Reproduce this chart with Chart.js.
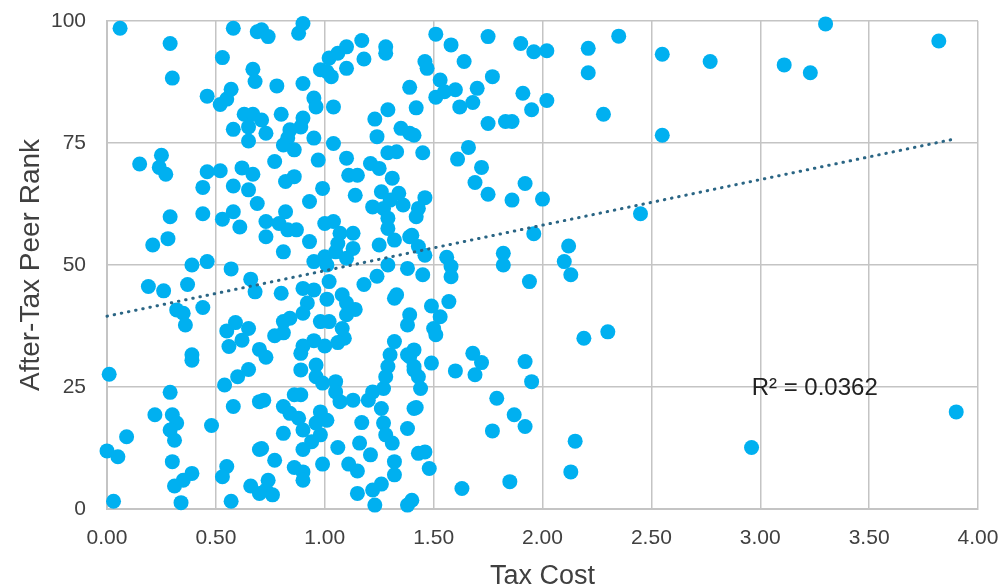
<!DOCTYPE html>
<html>
<head>
<meta charset="utf-8">
<title>Tax Cost vs After-Tax Peer Rank</title>
<script src="https://cdn.jsdelivr.net/npm/chart.js@4.4.1/dist/chart.umd.min.js"></script>
<style>
  html, body { margin: 0; padding: 0; background: #fff; }
  #wrap { width: 1003px; height: 586px; }
</style>
</head>
<body>
<div id="wrap"><canvas id="scatter"></canvas></div>
<script>
// ─── Data ────────────────────────────────────────────────────────────────────

const taxCost = [
  0.06, 0.29, 0.30, 0.46, 0.52, 0.55, 0.57, 0.53, 0.58, 0.69, 0.67, 0.68, 0.63, 0.67, 0.65, 0.58, 0.65,
  0.25, 0.15, 0.24, 0.27, 0.46, 0.52, 0.62, 0.67, 0.44, 0.58, 0.65, 0.69, 0.29, 0.44, 0.53, 0.58, 0.61,
  0.28, 0.21, 0.39, 0.46, 0.57, 0.71, 0.74, 0.90, 0.88, 0.78, 0.90, 0.95, 0.96, 1.04, 0.98, 1.02, 1.06,
  1.10, 1.10, 1.03, 1.01, 1.17, 1.18, 1.28, 1.28, 1.39, 0.80, 0.71, 0.73, 0.90, 0.89, 0.84, 0.83, 0.81,
  0.86, 0.95, 1.04, 1.23, 1.29, 1.24, 1.35, 1.39, 1.29, 1.33, 0.77, 0.97, 1.10, 1.21, 1.25, 0.82, 0.86,
  1.11, 1.15, 1.31, 0.99, 0.93, 1.14, 1.26, 1.34, 1.30, 1.36, 1.22, 1.27, 0.82, 0.73, 0.79, 0.83, 0.87,
  0.73, 1.00, 1.04, 1.07, 1.13, 1.29, 1.29, 1.32, 1.40, 0.93, 1.06, 1.13, 1.25, 0.81, 0.95, 1.00, 1.05,
  1.10, 1.29, 1.38, 1.51, 1.58, 1.64, 1.75, 1.90, 1.96, 2.02, 1.46, 1.47, 1.42, 1.53, 1.51, 1.55, 1.60,
  1.62, 1.68, 1.70, 1.77, 1.91, 1.95, 2.02, 1.75, 1.83, 1.86, 1.41, 1.45, 1.61, 1.66, 1.72, 1.69, 1.75,
  1.86, 1.92, 2.00, 1.46, 1.43, 1.42, 1.39, 1.43, 1.46, 1.56, 1.58, 1.82, 1.82, 1.96, 2.35, 2.21, 2.21,
  2.28, 2.55, 2.77, 2.55, 3.11, 3.23, 3.30, 3.82, 2.45, 2.12, 2.10, 2.13, 2.19, 2.30, 2.15, 2.13, 2.96,
  3.90, 0.66, 0.68, 0.19, 0.26, 0.37, 0.44, 0.32, 0.35, 0.36, 0.39, 0.39, 0.01, 0.55, 0.59, 0.65, 0.62,
  0.56, 0.70, 0.65, 0.60, 0.54, 0.29, 0.22, 0.30, 0.32, 0.29, 0.31, 0.48, 0.58, 0.70, 0.09, 0.00, 0.05,
  0.30, 0.39, 0.35, 0.31, 0.55, 0.53, 0.70, 0.66, 0.70, 0.03, 0.34, 0.57, 1.01, 0.80, 0.90, 0.95, 1.02,
  1.01, 1.08, 1.10, 1.14, 1.10, 1.18, 1.24, 1.32, 1.33, 1.39, 1.38, 0.92, 0.90, 0.84, 0.81, 0.98, 1.02,
  1.08, 1.09, 1.06, 1.00, 0.95, 0.90, 0.89, 0.81, 0.77, 0.73, 0.89, 0.96, 0.96, 0.99, 1.05, 1.05, 1.07,
  1.13, 1.20, 1.22, 1.27, 1.32, 1.30, 1.29, 1.28, 1.38, 1.41, 0.72, 0.86, 0.89, 0.81, 0.84, 0.88, 0.90,
  0.98, 1.01, 0.96, 0.98, 0.94, 0.90, 0.81, 0.71, 0.77, 0.86, 0.90, 0.90, 0.99, 1.06, 1.16, 1.21, 1.11,
  1.15, 1.17, 1.26, 1.27, 1.28, 1.31, 1.38, 1.41, 1.32, 1.32, 1.26, 1.22, 1.15, 1.23, 0.74, 0.73, 0.76,
  1.38, 1.58, 1.94, 1.45, 1.57, 1.49, 1.53, 1.50, 1.51, 1.41, 1.39, 1.41, 1.43, 1.44, 1.49, 1.60, 1.68,
  1.72, 1.69, 1.92, 1.95, 1.42, 1.43, 1.46, 1.48, 1.40, 1.79, 1.87, 1.92, 1.77, 1.63, 1.85,
];

const peerRank = [
  98.5, 95.4, 88.3, 84.6, 82.9, 84.0, 86.0, 92.5, 98.5, 97.8, 90.1, 87.6, 80.9, 80.9, 78.3, 77.8, 75.4,
  72.5, 70.7, 70.0, 68.6, 69.1, 69.3, 69.9, 68.6, 65.9, 66.2, 65.4, 62.6, 59.9, 60.5, 59.4, 60.9, 57.8,
  55.4, 54.1, 50.0, 50.7, 49.2, 98.2, 96.8, 99.5, 97.5, 86.7, 87.2, 84.2, 82.4, 82.4, 90.0, 92.4, 93.4,
  94.7, 90.3, 88.6, 89.6, 96.0, 92.2, 94.7, 93.4, 86.4, 80.9, 79.7, 77.0, 80.1, 78.3, 77.7, 76.0, 74.6,
  73.6, 76.0, 74.9, 79.9, 81.8, 76.3, 78.0, 77.0, 73.0, 73.2, 71.2, 71.5, 71.9, 70.8, 69.8, 67.1, 68.1,
  68.4, 68.4, 67.8, 65.7, 63.0, 64.3, 65.0, 64.7, 63.3, 62.3, 61.9, 61.6, 60.9, 58.9, 58.5, 57.2, 57.2,
  55.8, 58.5, 58.9, 56.5, 56.5, 59.6, 57.5, 55.1, 56.1, 54.8, 54.4, 53.4, 54.1, 52.7, 50.7, 51.7, 52.7,
  51.4, 50.0, 49.3, 97.3, 95.1, 91.7, 96.8, 95.4, 93.7, 93.9, 91.7, 90.3, 82.2, 87.9, 84.4, 85.5, 85.9,
  82.4, 83.3, 86.2, 88.6, 85.2, 81.8, 83.7, 79.0, 79.4, 79.4, 76.6, 73.0, 71.7, 74.1, 70.0, 66.9, 64.5,
  63.3, 66.7, 63.5, 63.8, 61.6, 59.9, 55.8, 53.8, 52.0, 51.6, 49.7, 52.4, 50.0, 56.4, 96.9, 94.4, 89.4,
  80.9, 93.2, 91.7, 76.6, 91.0, 89.4, 99.4, 95.9, 60.5, 53.9, 50.7, 48.0, 35.0, 36.3, 13.9, 7.6, 12.6,
  19.9, 47.1, 44.5, 45.6, 44.7, 46.0, 41.3, 40.8, 40.1, 37.7, 31.6, 30.5, 27.6, 36.5, 38.2, 37.0, 34.6,
  33.3, 32.7, 28.6, 27.1, 25.4, 23.9, 19.3, 19.3, 17.6, 16.2, 14.1, 17.1, 21.0, 22.0, 14.8, 11.9, 10.7,
  9.7, 7.3, 5.9, 4.7, 8.7, 6.6, 12.2, 4.7, 3.2, 1.6, 1.3, 1.6, 50.0, 44.2, 45.2, 44.9, 46.6,
  43.0, 43.9, 42.2, 40.9, 39.8, 46.0, 47.7, 43.2, 43.9, 39.8, 37.7, 42.2, 40.1, 39.1, 38.4, 38.4, 38.4,
  37.0, 35.0, 34.1, 33.4, 34.5, 33.4, 31.9, 36.1, 35.5, 31.1, 28.5, 29.5, 27.1, 25.8, 26.1, 24.0, 22.0,
  22.3, 22.3, 24.0, 24.7, 34.3, 31.6, 29.2, 27.1, 31.6, 28.5, 22.3, 23.4, 23.4, 21.0, 19.6, 18.6, 16.2,
  19.9, 18.2, 17.6, 15.2, 13.8, 12.2, 15.5, 12.4, 10.0, 8.5, 7.6, 5.9, 9.2, 12.6, 13.5, 11.1, 9.2,
  7.8, 17.7, 20.6, 17.6, 15.2, 13.5, 16.5, 20.6, 9.7, 7.0, 5.1, 3.9, 3.2, 0.8, 5.9, 3.9, 2.9,
  0.8, 47.6, 46.6, 48.0, 42.5, 41.6, 39.4, 37.0, 35.7, 32.6, 31.2, 29.2, 27.1, 24.7, 29.9, 28.3, 31.9,
  30.0, 27.5, 30.2, 26.1, 20.8, 11.4, 11.7, 8.3, 1.8, 22.7, 19.3, 16.9, 16.0, 4.2, 5.6,
];

// Linear trendline end points, as drawn in the reference
const trendX = [0.00, 3.89];
const trendY = [39.5, 75.8];

const R2_LABEL = 'R² = 0.0362';
const R2_AT    = { x: 3.25, y: 24.8 };

const X_TICKS = [0, 0.5, 1, 1.5, 2, 2.5, 3, 3.5, 4];
const Y_TICKS = [0, 25, 50, 75, 100];

// ─── Styling ─────────────────────────────────────────────────────────────────

const DOT_COLOR   = '#00B0F0';
const TREND_COLOR = '#2A6584';
const GRID_COLOR  = '#c4c4c4';
const TEXT_COLOR  = '#404040';
const FONT        = "'Liberation Sans', Arial, sans-serif";

// Draws the R² annotation at a data position
const r2Label = {
  id: 'r2Label',
  afterDatasetsDraw(chart) {
    const { ctx, scales } = chart;
    const px = scales.x.getPixelForValue(R2_AT.x);
    const py = scales.y.getPixelForValue(R2_AT.y);
    ctx.save();
    ctx.font = `24px ${FONT}`;
    ctx.fillStyle = '#222';
    ctx.textAlign = 'center';
    ctx.textBaseline = 'middle';
    ctx.fillText(R2_LABEL, px, py);
    ctx.restore();
  },
};

// Fixed axis sizes; label overflow is left to the layout padding
function fitX(s) {
  s.height = 77;
  s.paddingLeft = 0;
  s.paddingRight = 0;
}
function fitY(s) {
  s.width = 107;
  s.paddingTop = 0;
  s.paddingBottom = 0;
}

const points = taxCost.map((x, i) => ({ x, y: peerRank[i] }));
const trend  = trendX.map((x, i) => ({ x, y: trendY[i] }));

new Chart(document.getElementById('scatter'), {
  type: 'scatter',
  data: {
    datasets: [
      {
        label: 'After-Tax Peer Rank',
        data: points,
        backgroundColor: DOT_COLOR,
        borderWidth: 0,
        pointRadius: 7.5,
        pointHoverRadius: 7.5,
        clip: false,
        order: 2,
      },
      {
        label: 'Trend',
        type: 'line',
        data: trend,
        borderColor: TREND_COLOR,
        borderWidth: 3,
        borderDash: [0.5, 6.8],
        borderCapStyle: 'round',
        pointRadius: 0,
        fill: false,
        clip: false,
        order: 1,
      },
    ],
  },
  options: {
    responsive: true,
    maintainAspectRatio: false,
    animation: false,
    layout: { padding: { left: 0, right: 25, top: 21, bottom: 0 } },
    plugins: {
      legend: { display: false },
      tooltip: { enabled: false },
    },
    scales: {
      x: {
        type: 'linear',
        min: 0,
        max: 4,
        afterFit: fitX,
        afterBuildTicks: s => { s.ticks = X_TICKS.map(v => ({ value: v })); },
        grid: { color: GRID_COLOR, lineWidth: 1.5, drawTicks: false },
        border: { color: GRID_COLOR, width: 2 },
        ticks: {
          padding: 17,
          color: TEXT_COLOR,
          font: { family: FONT, size: 21 },
          callback: v => v.toFixed(2),
        },
        title: {
          display: true,
          text: 'Tax Cost',
          color: TEXT_COLOR,
          font: { family: FONT, size: 27, lineHeight: 1 },
          padding: { top: 0, bottom: -4 },
        },
      },
      y: {
        type: 'linear',
        min: 0,
        max: 100,
        afterFit: fitY,
        afterBuildTicks: s => { s.ticks = Y_TICKS.map(v => ({ value: v })); },
        grid: { color: GRID_COLOR, lineWidth: 1.5, drawTicks: false },
        border: { color: GRID_COLOR, width: 2 },
        ticks: {
          padding: 21,
          color: TEXT_COLOR,
          font: { family: FONT, size: 21 },
        },
        title: {
          display: true,
          text: 'After-Tax Peer Rank',
          color: TEXT_COLOR,
          font: { family: FONT, size: 28, lineHeight: 1 },
          padding: { top: 17, bottom: 0 },
        },
      },
    },
  },
  plugins: [r2Label],
});
</script>
</body>
</html>
